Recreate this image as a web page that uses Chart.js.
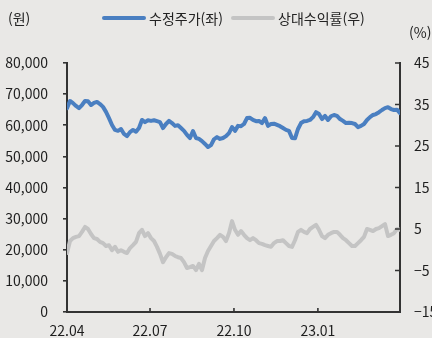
<!DOCTYPE html>
<html lang="ko">
<head>
<meta charset="utf-8">
<script src="https://cdn.jsdelivr.net/npm/chart.js@4/dist/chart.umd.min.js"></script>
<style>
  html, body { margin: 0; padding: 0; background: #e9e8e6; }
  #wrap { position: relative; width: 432px; height: 338px; overflow: hidden;
          font-family: "Noto Sans CJK KR", "Noto Sans", sans-serif; color: #222; }
  #wrap canvas { position: absolute; left: 0; top: 0; }
  .txt { position: absolute; font-size: 14px; line-height: 20px; white-space: nowrap; }
  .swatch { position: absolute; height: 4px; border-radius: 2px; }
</style>
</head>
<body>
<div id="wrap">
  <canvas id="chart" width="432" height="338"></canvas>
  <div class="txt" style="left:8px; top:8px;">(원)</div>
  <div class="swatch" style="left:102px; top:16px; width:44px; background:#4a7fc1;"></div>
  <div class="txt" style="left:149px; top:8px;">수정주가(좌)</div>
  <div class="swatch" style="left:231px; top:16px; width:44px; background:#c4c4c4;"></div>
  <div class="txt" style="left:278px; top:8px;">상대수익률(우)</div>
  <div class="txt" style="left:409px; top:22px;">(%)</div>
</div>
<script>
// Adjusted share price (KRW, left axis), roughly every 3 days from 22.04 to 23.04
const price = [
  65500, 67800, 67100, 66200, 65500, 66500, 67800, 67700, 66500, 67200,
  67500, 66800, 65900, 64300, 62300, 60100, 58500, 58200, 58800, 57200,
  56500, 57800, 58500, 57900, 59100, 61700, 61000, 61600, 61400, 61600,
  61300, 61000, 59100, 60400, 61400, 60700, 59800, 60000, 59100, 58200,
  56900, 55900, 58100, 55900, 55600, 54900, 54000, 53000, 53600, 55500,
  56200, 55600, 55900, 56500, 57500, 59400, 58200, 59800, 59700, 60400,
  62300, 62400, 61700, 61300, 61400, 60700, 62300, 59800, 60400, 60500,
  60100, 59700, 59100, 58500, 58200, 55900, 55800, 58800, 60700, 61300,
  61400, 61700, 62600, 64200, 63600, 62000, 63000, 61700, 62900, 63300,
  63000, 62000, 61400, 60700, 60800, 60700, 60400, 59400, 59800, 60400,
  61700, 62600, 63300, 63600, 64200, 64900, 65500, 65800, 65200, 64900,
  65000, 63900
];

// Relative return vs. market (%, right axis), same dates
const relReturn = [
  -0.8, 2.1, 2.8, 3.1, 3.3, 4.3, 5.5, 5.0, 3.8, 2.8,
  2.6, 1.9, 1.6, 0.9, 1.1, -0.1, 0.7, -0.5, -0.1, -0.5,
  -0.8, 0.4, 1.1, 1.9, 4.0, 4.8, 3.3, 4.0, 2.8, 2.1,
  0.7, -1.0, -3.0, -1.8, -0.8, -1.0, -1.5, -1.8, -2.0, -3.0,
  -4.4, -4.2, -3.9, -4.9, -3.4, -4.9, -2.0, -0.3, 0.9, 2.1,
  2.8, 3.6, 3.1, 2.1, 4.0, 6.9, 4.8, 3.6, 4.5, 3.6,
  2.8, 2.3, 2.8, 2.3, 1.6, 1.4, 1.1, 0.9, 0.7, 1.6,
  2.1, 2.1, 2.3, 1.6, 0.9, 0.7, 2.3, 4.3, 4.8, 4.3,
  4.0, 5.0, 5.5, 6.0, 4.8, 3.3, 2.8, 3.6, 4.0, 4.3,
  4.3, 3.6, 2.8, 2.3, 1.6, 0.9, 0.9, 1.6, 2.3, 3.1,
  5.0, 4.8, 4.5, 5.0, 5.2, 5.7, 6.2, 3.3, 3.6, 4.0,
  5.0, 4.8
];

// Day offsets (from 22.04.01) of the quarterly date ticks, and their labels
const tickDays   = [0, 91, 183, 275, 365];
const tickLabels = ['22.04', '22.07', '22.10', '23.01', ''];

const SPAN_DAYS = 365;
const step = SPAN_DAYS / (price.length - 1);
const toPoints = arr => arr.map((v, i) => ({ x: i * step, y: v }));

const AXIS = '#333333';
const TEXT = '#1e1e1e';
const FONT = { family: '"Noto Sans CJK KR", "Noto Sans", sans-serif', size: 14 };

// Right axis and date axis have their tick marks pointing into the plot
const innerTicks = {
  id: 'innerTicks',
  afterDraw(chart) {
    const { ctx, chartArea: a, scales } = chart;
    ctx.save();
    ctx.strokeStyle = AXIS;
    ctx.lineWidth = 1.6;
    ctx.beginPath();
    scales.y2.ticks.forEach(t => {
      const y = scales.y2.getPixelForValue(t.value);
      ctx.moveTo(a.right - 5, y); ctx.lineTo(a.right, y);
    });
    scales.x.ticks.forEach(t => {
      if (t.value === 0 || t.value === SPAN_DAYS) return;
      const x = scales.x.getPixelForValue(t.value);
      ctx.moveTo(x, a.bottom - 4); ctx.lineTo(x, a.bottom);
    });
    ctx.stroke();
    ctx.restore();
  }
};

new Chart(document.getElementById('chart'), {
  type: 'line',
  data: {
    datasets: [
      {
        label: '수정주가(좌)',
        data: toPoints(price),
        yAxisID: 'y',
        borderColor: '#4a7fc1',
        borderWidth: 4,
        pointRadius: 0,
        borderCapStyle: 'round',
        borderJoinStyle: 'round',
        tension: 0
      },
      {
        label: '상대수익률(우)',
        data: toPoints(relReturn),
        yAxisID: 'y2',
        borderColor: '#c4c4c4',
        borderWidth: 4,
        pointRadius: 0,
        borderCapStyle: 'round',
        borderJoinStyle: 'round',
        tension: 0
      }
    ]
  },
  options: {
    responsive: false,
    animation: false,
    devicePixelRatio: 1,
    layout: { padding: { top: 63, left: 0, right: 0, bottom: 0 } },
    plugins: { legend: { display: false }, tooltip: { enabled: false } },
    scales: {
      x: {
        type: 'linear',
        min: 0,
        max: SPAN_DAYS,
        border: { display: true, color: AXIS, width: 2 },
        grid: { display: false, drawTicks: false },
        afterBuildTicks: s => { s.ticks = tickDays.map(v => ({ value: v })); },
        afterFit: s => { s.height = 26; },
        ticks: {
          autoSkip: false,
          maxRotation: 0,
          padding: 10,
          color: TEXT,
          font: FONT,
          callback: v => tickLabels[tickDays.indexOf(v)] ?? ''
        }
      },
      y: {
        position: 'left',
        min: 0,
        max: 80000,
        border: { display: true, color: AXIS, width: 2 },
        grid: { display: true, drawOnChartArea: false, drawTicks: true, tickLength: 4, color: AXIS, lineWidth: 1.6 },
        afterFit: s => { s.width = 67; },
        ticks: {
          stepSize: 10000,
          padding: 15,
          color: TEXT,
          font: FONT,
          callback: v => v.toLocaleString('en-US')
        }
      },
      y2: {
        position: 'right',
        min: -15,
        max: 45,
        border: { display: true, color: AXIS, width: 2 },
        grid: { display: false, drawTicks: false },
        afterFit: s => { s.width = 32; },
        ticks: {
          stepSize: 10,
          padding: 14,
          color: TEXT,
          font: FONT,
          callback: v => String(v).replace('-', '\u2212')
        }
      }
    }
  },
  plugins: [innerTicks]
});
</script>
</body>
</html>
